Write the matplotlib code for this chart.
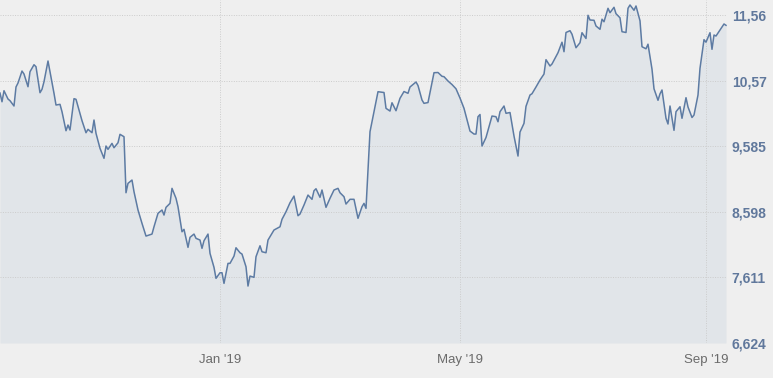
import pandas as pd
import matplotlib
matplotlib.use("Agg")
import matplotlib.pyplot as plt

plt.rcParams['font.family'] = ['Liberation Sans', 'DejaVu Sans']

# price history, days counted from the first quote
start_date = "2018-09-13"
day_offsets = [
    0, 1, 2, 4, 5, 7, 8, 9, 11, 12, 14, 15, 17, 18, 20, 21, 22, 24, 25, 27,
    28, 30, 31, 33, 34, 35, 37, 38, 40, 41, 43, 44, 46, 47, 48, 50, 52, 53, 54, 56,
    57, 59, 60, 62, 63, 64, 66, 67, 69, 71, 73, 76, 77, 79, 81, 82, 83, 85, 86, 88,
    89, 91, 92, 94, 95, 97, 98, 100, 101, 102, 104, 105, 107, 108, 110, 111, 112, 114, 115, 117,
    118, 120, 121, 123, 124, 125, 127, 128, 130, 131, 133, 134, 136, 137, 140, 141, 143, 145, 147, 149,
    150, 152, 154, 156, 157, 158, 160, 161, 163, 165, 167, 169, 170, 172, 173, 175, 177, 179, 181, 182,
    183, 185, 186, 188, 189, 192, 193, 195, 196, 198, 200, 202, 204, 205, 208, 209, 211, 212, 214, 217,
    219, 221, 222, 224, 226, 228, 230, 232, 233, 235, 237, 238, 239, 240, 241, 243, 246, 248, 249, 250,
    252, 253, 255, 257, 259, 260, 262, 263, 265, 266, 268, 270, 272, 273, 275, 276, 278, 279, 281, 282,
    283, 285, 286, 288, 290, 291, 293, 294, 295, 297, 298, 300, 301, 302, 304, 305, 307, 308, 310, 311,
    313, 314, 315, 317, 318, 320, 321, 323, 324, 326, 327, 329, 330, 331, 333, 334, 335, 337, 338, 340,
    341, 343, 344, 346, 347, 349, 350, 352, 353, 355, 356, 357, 358, 360, 362, 363,
]
prices = [
    10.385, 10.254, 10.420, 10.295, 10.270, 10.190, 10.476, 10.536, 10.716, 10.671,
    10.480, 10.706, 10.811, 10.781, 10.390, 10.441, 10.555, 10.867, 10.706, 10.381,
    10.205, 10.215, 10.104, 9.818, 9.904, 9.829, 10.300, 10.291, 10.080, 9.969,
    9.788, 9.839, 9.788, 9.979, 9.779, 9.553, 9.403, 9.588, 9.538, 9.628,
    9.562, 9.637, 9.764, 9.728, 8.885, 9.026, 9.076, 8.900, 8.625, 8.424,
    8.233, 8.263, 8.373, 8.575, 8.625, 8.549, 8.665, 8.725, 8.951, 8.801,
    8.674, 8.298, 8.334, 8.063, 8.214, 8.263, 8.199, 8.173, 8.048, 8.163,
    8.263, 7.973, 7.762, 7.597, 7.681, 7.681, 7.521, 7.822, 7.822, 7.932,
    8.057, 7.982, 7.962, 7.771, 7.481, 7.631, 7.612, 7.922, 8.087, 7.997,
    7.982, 8.173, 8.274, 8.324, 8.373, 8.485, 8.599, 8.734, 8.835, 8.539,
    8.564, 8.700, 8.850, 8.786, 8.915, 8.945, 8.816, 8.926, 8.665, 8.801,
    8.926, 8.951, 8.885, 8.825, 8.715, 8.786, 8.786, 8.500, 8.674, 8.725,
    8.650, 9.803, 9.953, 10.254, 10.405, 10.393, 10.155, 10.114, 10.239, 10.119,
    10.306, 10.408, 10.381, 10.476, 10.551, 10.498, 10.280, 10.230, 10.242, 10.691,
    10.694, 10.637, 10.631, 10.566, 10.513, 10.449, 10.310, 10.155, 10.039, 9.813,
    9.768, 9.768, 10.029, 10.062, 9.588, 9.716, 10.039, 10.029, 9.953, 10.104,
    10.190, 10.080, 10.092, 9.738, 9.437, 9.798, 9.929, 10.185, 10.355, 10.375,
    10.476, 10.581, 10.671, 10.887, 10.792, 10.822, 10.935, 10.992, 11.150, 11.007,
    11.296, 11.323, 11.270, 11.067, 11.142, 11.293, 11.206, 11.555, 11.484, 11.480,
    11.394, 11.344, 11.496, 11.458, 11.660, 11.594, 11.675, 11.579, 11.517, 11.308,
    11.296, 11.660, 11.710, 11.630, 11.695, 11.472, 11.082, 11.051, 11.120, 10.744,
    10.449, 10.276, 10.373, 10.431, 10.005, 9.919, 10.190, 9.824, 10.104, 10.179,
    10.005, 10.315, 10.175, 10.017, 10.054, 10.355, 10.757, 11.188, 11.150, 11.293,
    11.043, 11.258, 11.243, 11.334, 11.424, 11.404,
]

y_ticks = [6.624, 7.611, 8.598, 9.585, 10.572, 11.559]
y_labels = ["6,624", "7,611", "8,598", "9,585", "10,57", "11,56"]
x_ticks = ["2019-01-01", "2019-05-01", "2019-09-01"]
x_labels = ["Jan '19", "May '19", "Sep '19"]

dates = pd.Timestamp(start_date) + pd.to_timedelta(day_offsets, unit="D")

bg = "#efefef"
fig = plt.figure(figsize=(7.73, 3.78), dpi=100, facecolor=bg)
ax = fig.add_axes([0, 35 / 378, 727 / 773, 343 / 378])
ax.set_facecolor(bg)

ax.fill_between(dates, prices, y_ticks[0], color="#e1e5e9", lw=0, zorder=1)
ax.plot(dates, prices, color="#5d7ba3", lw=1.1, zorder=3)

ax.set_xlim(pd.Timestamp(start_date), pd.Timestamp(start_date) + pd.Timedelta(days=363.5))
ax.set_ylim(y_ticks[0], 11.785)

ax.set_yticks(y_ticks, y_labels)
ax.set_xticks(pd.to_datetime(x_ticks), x_labels)
ax.tick_params(axis="y", left=False, labelleft=False, right=False, labelright=True,
               length=0, pad=3.5, labelsize=10, labelcolor="#60789c")
ax.tick_params(axis="x", length=0, pad=8, labelsize=9.5, labelcolor="#6b6b6b")
for lab in ax.get_yticklabels():
    lab.set_fontweight("bold")

ax.grid(True, linestyle=(0, (1, 1.5)), color="#cccccc", lw=0.7, zorder=2)
for s in ax.spines.values():
    s.set_visible(False)

fig.savefig("out.png", dpi=100, facecolor=bg)
